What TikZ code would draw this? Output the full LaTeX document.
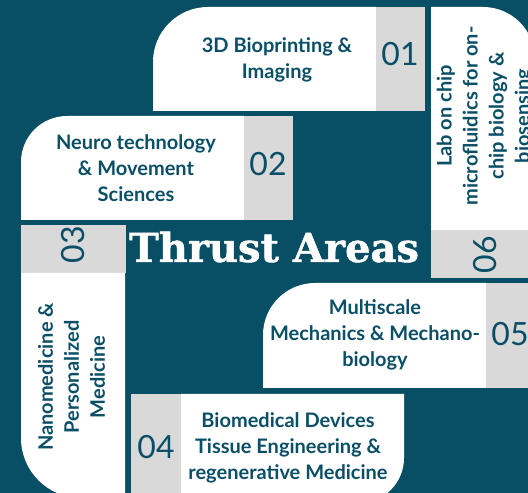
\documentclass[tikz,border=0pt]{standalone}
\usepackage{fontspec}
\setmainfont{Lato}
\newfontfamily\bodyfont{Lato}
\newfontfamily\numfont{Lato}
\newfontfamily\titlefont{DejaVu Serif}[FakeBold=1.2]
\definecolor{bg}{HTML}{084E64}
\definecolor{ink}{HTML}{0B4F67}
\definecolor{tab}{HTML}{D9D9D9}
\begin{document}
\begin{tikzpicture}[x=1pt,y=1pt,
  txt/.style={text=ink, font=\bodyfont\bfseries\fontsize{20}{26}\selectfont, align=center, inner sep=0pt},
  num/.style={text=ink, font=\numfont\fontsize{32}{32}\selectfont, inner sep=0pt},
  card/.style={fill=white},
  tabbox/.style={fill=tab}]
\useasboundingbox (0,0) rectangle (528,493);
\fill[bg] (0,0) rectangle (528,493);
\begin{scope}
\clip (0,0) rectangle (528,493);
% card 1
\fill[card] (376,382) -- (153,382) -- (153,431) arc[start angle=180,end angle=90,radius=55] -- (376,486) -- cycle;
\fill[tabbox] (376,382) rectangle (425,486);
% card 6
\fill[card] (431,263) -- (431,486) -- (483,486) arc[start angle=90,end angle=0,radius=52] -- (535,263) -- cycle;
\fill[tabbox] (431,215) rectangle (535,263);
% card 2
\fill[card] (244,273) -- (21,273) -- (21,331) arc[start angle=180,end angle=90,radius=46] -- (244,377) -- cycle;
\fill[tabbox] (244,273) rectangle (293,377);
% card 3
\fill[tabbox] (21,220) rectangle (126,268);
\fill[card] (125,220) -- (21,220) -- (21,55) arc[start angle=180,end angle=270,radius=60] -- (125,-5) -- cycle;
% card 4
\fill[tabbox] (131,-20) rectangle (181,99);
\fill[card] (181,99) -- (404,99) -- (404,35) arc[start angle=0,end angle=-90,radius=45] -- (181,-10) -- cycle;
% card 5
\fill[card] (486,105) -- (263,105) -- (263,158) arc[start angle=180,end angle=90,radius=52] -- (486,210) -- cycle;
\fill[tabbox] (486,105) rectangle (540,210);
% texts
\node[txt] (t1) at (277,433.5) {3D Bioprinting \&\\Imaging};
\node[num] (n1) at (400,438.5) {01};
\node[txt] (t2) at (136,325) {Neuro technology\\\& Movement\\Sciences};
\node[num] (n2) at (268,329) {02};
\node[num,rotate=90] (n3) at (73,248) {03};
\node[txt,rotate=90] (t3) at (71.5,116) {Nanomedicine \&\\Personalized\\Medicine};
\node[txt,rotate=90] (t6) at (485,377) {Lab on chip\\microfluidics for on-\\chip biology \&\\biosensing};
\node[num,rotate=90] (n6) at (485,238) {06};
\node[txt] (t5) at (375,158) {Multiscale\\Mechanics \& Mechano-\\biology};
\node[num] (n5) at (510,159) {05};
\node[txt] (t4) at (288,45) {Biomedical Devices\\Tissue Engineering \&\\regenerative Medicine};
\node[num] (n4) at (156,46) {04};
\node[text=white, inner sep=0pt, font=\titlefont\bfseries\fontsize{40}{40}\selectfont] (title) at (274,246) {Thrust Areas};
\end{scope}
\end{tikzpicture}
\end{document}
